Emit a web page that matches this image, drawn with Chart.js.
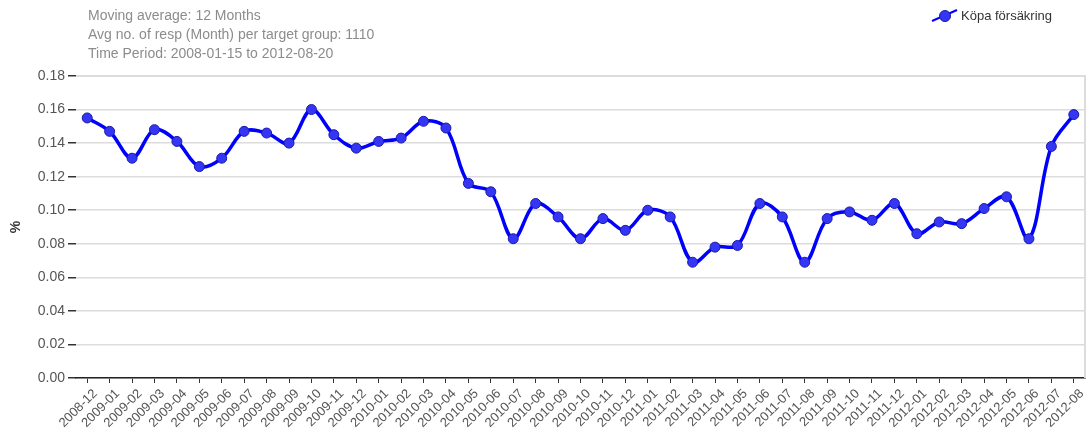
<!DOCTYPE html>
<html>
<head>
<meta charset="utf-8">
<script src="https://cdn.jsdelivr.net/npm/chart.js@4/dist/chart.umd.min.js"></script>
<style>
  body { margin: 0; background: #fff; }
  #wrap { width: 1091px; height: 437px; position: relative; }
</style>
</head>
<body>
<div id="wrap"><canvas id="chart-canvas"></canvas></div>
<script>
// Data
const months = [
    "2008-12",
    "2009-01", "2009-02", "2009-03", "2009-04", "2009-05", "2009-06",
    "2009-07", "2009-08", "2009-09", "2009-10", "2009-11", "2009-12",
    "2010-01", "2010-02", "2010-03", "2010-04", "2010-05", "2010-06",
    "2010-07", "2010-08", "2010-09", "2010-10", "2010-11", "2010-12",
    "2011-01", "2011-02", "2011-03", "2011-04", "2011-05", "2011-06",
    "2011-07", "2011-08", "2011-09", "2011-10", "2011-11", "2011-12",
    "2012-01", "2012-02", "2012-03", "2012-04", "2012-05", "2012-06",
    "2012-07", "2012-08"
];
const kopaForsakring = [
    0.155,
    0.147, 0.131, 0.148, 0.141, 0.126, 0.131,
    0.147, 0.146, 0.140, 0.160, 0.145, 0.137,
    0.141, 0.143, 0.153, 0.149, 0.116, 0.111,
    0.083, 0.104, 0.096, 0.083, 0.095, 0.088,
    0.100, 0.096, 0.069, 0.078, 0.079, 0.104,
    0.096, 0.069, 0.095, 0.099, 0.094, 0.104,
    0.086, 0.093, 0.092, 0.101, 0.108, 0.083,
    0.138, 0.157
];
const seriesName = "Köpa försäkring";
const headerLines = [
    "Moving average: 12 Months",
    "Avg no. of resp (Month) per target group: 1110",
    "Time Period: 2008-01-15 to 2012-08-20"
];
const yTicks = [0, 0.02, 0.04, 0.06, 0.08, 0.10, 0.12, 0.14, 0.16, 0.18];

const fontFamily = "'Liberation Sans', Arial, sans-serif";

// header text, legend and plot frame
const decorations = {
    id: "decorations",
    beforeDatasetsDraw(chart) {
        const { ctx, chartArea } = chart;
        ctx.save();
        ctx.strokeStyle = "#dcdcdc";
        ctx.lineWidth = 2;
        ctx.beginPath();
        ctx.moveTo(chartArea.left, chartArea.top);
        ctx.lineTo(chartArea.right, chartArea.top);
        ctx.lineTo(chartArea.right, chartArea.bottom);
        ctx.stroke();
        ctx.restore();
    },
    afterDraw(chart) {
        const ctx = chart.ctx;
        ctx.save();
        ctx.font = "14px " + fontFamily;
        ctx.fillStyle = "#8c8c8c";
        ctx.textBaseline = "middle";
        headerLines.forEach((line, i) => {
            ctx.fillText(line, 88, 16 + i * 19);
        });

        // legend
        const ds = chart.data.datasets[0];
        ctx.strokeStyle = ds.borderColor;
        ctx.lineWidth = 2;
        ctx.beginPath();
        ctx.moveTo(932, 21);
        ctx.lineTo(957, 10);
        ctx.stroke();
        ctx.beginPath();
        ctx.arc(945, 16, 5.5, 0, Math.PI * 2);
        ctx.fillStyle = ds.pointBackgroundColor;
        ctx.fill();
        ctx.strokeStyle = ds.pointBorderColor;
        ctx.lineWidth = 1;
        ctx.stroke();
        ctx.font = "13px " + fontFamily;
        ctx.fillStyle = "#333";
        ctx.fillText(ds.label, 961, 16);
        ctx.restore();
    }
};

const theChart = document.getElementById("chart-canvas").getContext("2d");
let myChart = new Chart(theChart, {
    type: "line",
    data: {
        labels: months,
        datasets: [{
            label: seriesName,
            data: kopaForsakring,
            borderColor: "#0000ff",
            borderWidth: 3.5,
            tension: 0.35,
            pointRadius: 5,
            pointBackgroundColor: "#3535f5",
            pointBorderColor: "#1a1aa8",
            pointBorderWidth: 1
        }]
    },
    options: {
        responsive: true,
        maintainAspectRatio: false,
        animation: false,
        layout: {
            padding: { top: 76, right: 4, left: 0, bottom: 0 }
        },
        plugins: {
            legend: { display: false },
            title: { display: false },
            tooltip: { enabled: false }
        },
        scales: {
            x: {
                offset: true,
                grid: {
                    drawOnChartArea: false,
                    drawTicks: true,
                    tickLength: 5,
                    tickColor: "#333"
                },
                border: { color: "#222", width: 1.5 },
                ticks: {
                    autoSkip: false,
                    minRotation: 45,
                    maxRotation: 45,
                    padding: 3,
                    labelOffset: 8,
                    color: "#555",
                    font: { family: fontFamily, size: 13 }
                },
                afterFit(scale) { scale.height = 59; }
            },
            y: {
                min: 0,
                max: 0.18,
                afterBuildTicks(scale) {
                    scale.ticks = yTicks.map(v => ({ value: v }));
                },
                grid: {
                    color: "#dcdcdc",
                    lineWidth: 1.5,
                    tickLength: 8,
                    tickColor: "#333"
                },
                border: { display: false },
                ticks: {
                    padding: 3,
                    color: "#555",
                    font: { family: fontFamily, size: 14 },
                    callback: (v) => Number(v).toFixed(2)
                },
                title: {
                    display: true,
                    text: "%",
                    color: "#333",
                    font: { family: fontFamily, size: 14, weight: "bold" },
                    padding: { top: 8, bottom: 4 }
                },
                afterFit(scale) { scale.width = 76; }
            }
        }
    },
    plugins: [decorations]
});
</script>
</body>
</html>
